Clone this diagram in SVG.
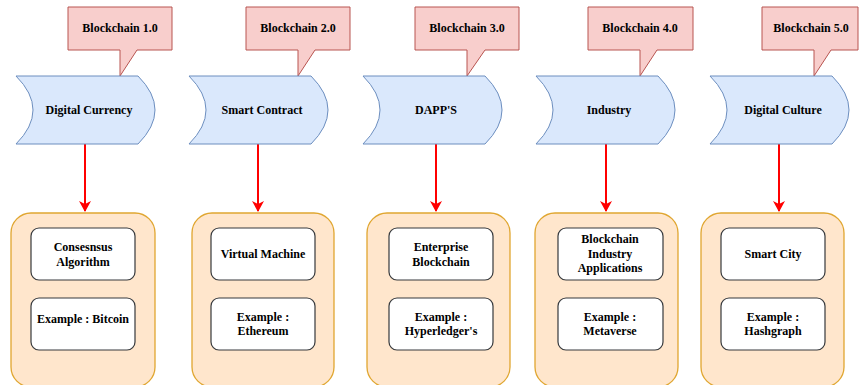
<svg xmlns="http://www.w3.org/2000/svg" width="859" height="385" viewBox="0 0 859 385">
<style>
text{font-family:"Liberation Serif","Times New Roman",serif;font-weight:bold;font-size:12px;fill:#000;text-anchor:middle}
.call{fill:#f8cecc;stroke:#b85450;stroke-width:1}
.era{fill:#dae8fc;stroke:#6c8ebf;stroke-width:1}
.cont{fill:#ffe6cc;stroke:#e0a630;stroke-width:1.3}
.inner{fill:#fff;stroke:#36393d;stroke-width:1.2}
.conn{stroke:#ff0000;stroke-width:2;fill:none}
</style>
<defs>
<marker id="ah" markerWidth="12" markerHeight="12" refX="10" refY="6" orient="auto" markerUnits="userSpaceOnUse">
<path d="M0,0 L11,6 L0,12 L3,6 Z" fill="#ff0000"/>
</marker>
<path id="era" class="era" d="M0,0 L122,0 Q156,34 122,68 L0,68 Q34,34 0,0 Z"/>
</defs>

<g id="connectors">
<line class="conn" x1="85" y1="144" x2="85" y2="211" marker-end="url(#ah)"/>
<line class="conn" x1="258" y1="144" x2="258" y2="211" marker-end="url(#ah)"/>
<line class="conn" x1="436" y1="144" x2="436" y2="211" marker-end="url(#ah)"/>
<line class="conn" x1="606" y1="144" x2="606" y2="211" marker-end="url(#ah)"/>
<line class="conn" x1="779" y1="144" x2="779" y2="211" marker-end="url(#ah)"/>
</g>

<g id="col1">
<g id="callout1"><polygon class="call" points="68,7 172,7 172,50 137,50 120,76 120,50 68,50"/><text x="120" y="32">Blockchain 1.0</text></g>
<g id="era1"><use href="#era" x="16" y="76"/><text x="89" y="114">Digital Currency</text></g>
<g id="group1"><rect class="cont" x="11" y="213" width="144" height="174" rx="20"/>
<g id="c1a"><rect class="inner" x="31" y="228" width="104" height="52" rx="8"/><text x="83" y="251">Consesnsus</text><text x="83" y="266">Algorithm</text></g>
<g id="c1b"><rect class="inner" x="31" y="298" width="104" height="52" rx="8"/><text x="83" y="323">Example : Bitcoin</text></g>
</g>
</g>

<g id="col2">
<g id="callout2"><polygon class="call" points="246,7 350,7 350,50 315,50 298,76 298,50 246,50"/><text x="298" y="32">Blockchain 2.0</text></g>
<g id="era2"><use href="#era" x="189" y="76"/><text x="262" y="114">Smart Contract</text></g>
<g id="group2"><rect class="cont" x="192" y="213" width="142" height="174" rx="20"/>
<g id="c2a"><rect class="inner" x="211" y="228" width="104" height="52" rx="8"/><text x="263" y="258">Virtual Machine</text></g>
<g id="c2b"><rect class="inner" x="211" y="298" width="104" height="52" rx="8"/><text x="263" y="321">Example :</text><text x="263" y="335">Ethereum</text></g>
</g>
</g>

<g id="col3">
<g id="callout3"><polygon class="call" points="415,7 519,7 519,50 485,50 467,76 467,50 415,50"/><text x="467" y="32">Blockchain 3.0</text></g>
<g id="era3"><use href="#era" x="363" y="76"/><text x="436" y="114">DAPP'S</text></g>
<g id="group3"><rect class="cont" x="367" y="213" width="143" height="174" rx="20"/>
<g id="c3a"><rect class="inner" x="389" y="228" width="104" height="52" rx="8"/><text x="441" y="251">Enterprise</text><text x="441" y="266">Blockchain</text></g>
<g id="c3b"><rect class="inner" x="389" y="298" width="104" height="52" rx="8"/><text x="441" y="321">Example :</text><text x="441" y="335">Hyperledger's</text></g>
</g>
</g>

<g id="col4">
<g id="callout4"><polygon class="call" points="588,7 693,7 693,50 657,50 640,76 640,50 588,50"/><text x="640" y="32">Blockchain 4.0</text></g>
<g id="era4"><use href="#era" x="536" y="76"/><text x="609" y="114">Industry</text></g>
<g id="group4"><rect class="cont" x="535" y="213" width="143" height="174" rx="20"/>
<g id="c4a"><rect class="inner" x="558" y="228" width="105" height="52" rx="8"/><text x="610" y="243">Blockchain</text><text x="610" y="258">Industry</text><text x="610" y="272">Applications</text></g>
<g id="c4b"><rect class="inner" x="558" y="298" width="105" height="52" rx="8"/><text x="610" y="321">Example :</text><text x="610" y="335">Metaverse</text></g>
</g>
</g>

<g id="col5">
<g id="callout5"><polygon class="call" points="762,7 858,7 858,50 831,50 814,76 814,50 762,50"/><text x="811" y="32">Blockchain 5.0</text></g>
<g id="era5"><use href="#era" x="710" y="76"/><text x="783" y="114">Digital Culture</text></g>
<g id="group5"><rect class="cont" x="701" y="213" width="143" height="174" rx="20"/>
<g id="c5a"><rect class="inner" x="721" y="228" width="104" height="52" rx="8"/><text x="773" y="258">Smart City</text></g>
<g id="c5b"><rect class="inner" x="721" y="298" width="104" height="52" rx="8"/><text x="773" y="321">Example :</text><text x="773" y="335">Hashgraph</text></g>
</g>
</g>
</svg>
